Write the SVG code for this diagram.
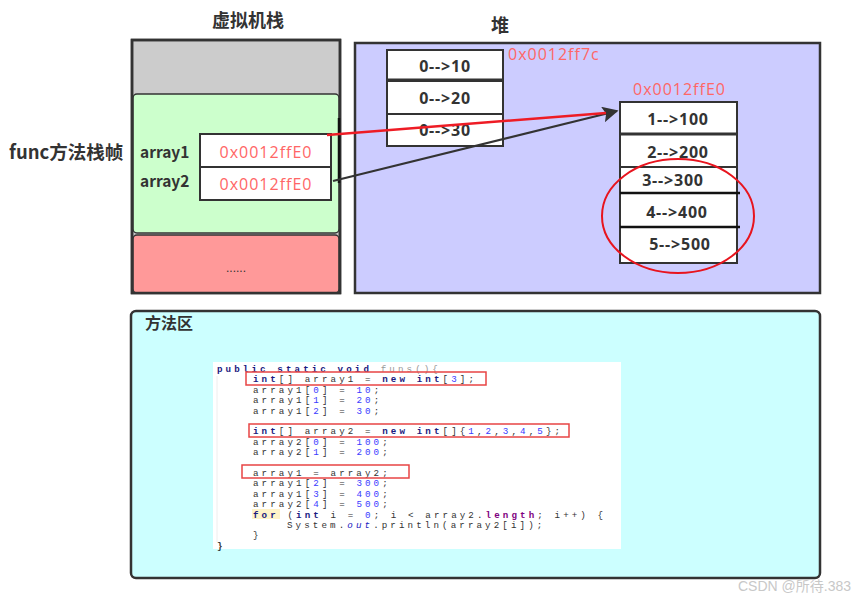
<svg xmlns="http://www.w3.org/2000/svg" width="855" height="602" viewBox="0 0 855 602">
<defs>
<style>
.t{font-family:"Noto Sans CJK SC","Liberation Sans",sans-serif;font-weight:bold;fill:#333;}
.addr{font-family:"Open Sans","Liberation Sans",sans-serif;fill:#ff6666;font-size:16px;letter-spacing:1px;}
.cell{fill:#fff;stroke:#333;stroke-width:2;}
.val{font-family:"Open Sans","Liberation Sans",sans-serif;font-weight:bold;fill:#333;font-size:16px;letter-spacing:0.8px;text-anchor:middle;}
.code{font-family:"Liberation Mono",monospace;font-size:9.2px;letter-spacing:3.1px;fill:#333;}
.kw{fill:#1a1a80;font-weight:bold;}
.num{fill:#3a3aff;}
.rb{fill:none;stroke:#e84444;stroke-width:1.5;}
</style>
<marker id="ah2" viewBox="0 0 10 10" refX="9" refY="5" markerWidth="16" markerHeight="16" markerUnits="userSpaceOnUse" orient="auto">
<path d="M0,0 L10,5 L0,10 L2,5 z" fill="#333"/>
</marker>
</defs>
<rect x="0" y="0" width="855" height="602" fill="#fff"/>

<g id="stack">
<text class="t" x="248" y="27" font-size="18" text-anchor="middle">虚拟机栈</text>
<rect x="132" y="40" width="208" height="253" fill="#cccccc" stroke="#333" stroke-width="2.5"/>
<rect x="133" y="94" width="206" height="139" rx="4" fill="#ccffcc" stroke="#333" stroke-width="1.5"/>
<rect x="133" y="235" width="206" height="58" rx="4" fill="#ff9999" stroke="#333" stroke-width="1.5"/>
<rect x="132" y="40" width="208" height="253" fill="none" stroke="#333" stroke-width="2.5"/>
<text x="236" y="272" font-family="Liberation Sans,sans-serif" font-size="12" fill="#333" text-anchor="middle">......</text>
</g>

<g id="frame-label">
<text class="t" x="9" y="159" font-size="18.5">func方法栈帧</text>
</g>

<g id="locals">
<text class="t" x="140" y="158" font-size="15.5">array1</text>
<text class="t" x="140" y="187" font-size="15.5">array2</text>
<rect class="cell" x="200" y="134" width="131" height="33"/>
<rect class="cell" x="200" y="167" width="131" height="33"/>
<text class="addr" x="266" y="158" text-anchor="middle">0x0012ffE0</text>
<text class="addr" x="266" y="190" text-anchor="middle">0x0012ffE0</text>
<line x1="339" y1="118" x2="339" y2="183" stroke="#111" stroke-width="2.5"/>
</g>

<g id="heap">
<text class="t" x="500" y="32" font-size="18" text-anchor="middle">堆</text>
<rect x="355" y="43" width="465" height="250" fill="#ccccff" stroke="#333" stroke-width="2.5"/>
</g>

<g id="arr1">
<rect class="cell" x="387" y="50" width="116" height="30"/>
<rect class="cell" x="387" y="81" width="116" height="33"/>
<rect class="cell" x="387" y="114" width="116" height="32"/>
<line x1="387" y1="80" x2="503" y2="80" stroke="#333" stroke-width="3"/>
<text class="val" x="445" y="72">0--&gt;10</text>
<text class="val" x="445" y="104">0--&gt;20</text>
<text class="val" x="445" y="136">0--&gt;30</text>
<text class="addr" x="508" y="60">0x0012ff7c</text>
</g>

<g id="arr2">
<text class="addr" x="633" y="95">0x0012ffE0</text>
<rect class="cell" x="620" y="102" width="117" height="32"/>
<rect class="cell" x="620" y="134" width="117" height="33"/>
<rect x="620" y="167" width="117" height="96" fill="#fff" stroke="#333" stroke-width="2"/>
<line x1="620" y1="134" x2="737" y2="134" stroke="#333" stroke-width="3"/>
<line x1="620" y1="193" x2="740" y2="193" stroke="#111" stroke-width="2.5"/>
<line x1="620" y1="227" x2="740" y2="227" stroke="#111" stroke-width="2.5"/>
<text class="val" x="678" y="125">1--&gt;100</text>
<text class="val" x="678" y="158">2--&gt;200</text>
<text class="val" x="673" y="186">3--&gt;300</text>
<text class="val" x="677" y="218">4--&gt;400</text>
<text class="val" x="680" y="250">5--&gt;500</text>
<ellipse cx="678" cy="216" rx="76" ry="57" fill="none" stroke="#e8141e" stroke-width="2"/>
</g>

<g id="connectors">
<line x1="333" y1="181" x2="617" y2="111" stroke="#333" stroke-width="2" marker-end="url(#ah2)"/>
<line x1="327" y1="135" x2="606" y2="113" stroke="#ee1c25" stroke-width="2.5"/>
</g>

<g id="method-area">
<rect x="131" y="311" width="689" height="267" rx="5" fill="#ccffff" stroke="#333" stroke-width="2.5"/>
<text class="t" x="145" y="329" font-size="16">方法区</text>
</g>

<g id="code">
<rect x="213" y="362" width="408" height="187" fill="#fff"/>
<line x1="217" y1="376" x2="217" y2="542" stroke="#eee" stroke-width="1"/>
<text class="code" x="217" y="372"><tspan class="kw">public static void</tspan> <tspan fill="#999">funs(){</tspan></text>
<text class="code" x="253" y="382.4"><tspan class="kw">int</tspan>[] array1 = <tspan class="kw">new int</tspan>[<tspan class="num">3</tspan>];</text>
<text class="code" x="253" y="392.8">array1[<tspan class="num">0</tspan>] = <tspan class="num">10</tspan>;</text>
<text class="code" x="253" y="403.2">array1[<tspan class="num">1</tspan>] = <tspan class="num">20</tspan>;</text>
<text class="code" x="253" y="413.6">array1[<tspan class="num">2</tspan>] = <tspan class="num">30</tspan>;</text>
<text class="code" x="253" y="434.4"><tspan class="kw">int</tspan>[] array2 = <tspan class="kw">new int</tspan>[]{<tspan class="num">1</tspan>,<tspan class="num">2</tspan>,<tspan class="num">3</tspan>,<tspan class="num">4</tspan>,<tspan class="num">5</tspan>};</text>
<text class="code" x="253" y="444.8">array2[<tspan class="num">0</tspan>] = <tspan class="num">100</tspan>;</text>
<text class="code" x="253" y="455.2">array2[<tspan class="num">1</tspan>] = <tspan class="num">200</tspan>;</text>
<text class="code" x="253" y="476">array1 = array2;</text>
<text class="code" x="253" y="486.4">array1[<tspan class="num">2</tspan>] = <tspan class="num">300</tspan>;</text>
<text class="code" x="253" y="496.8">array1[<tspan class="num">3</tspan>] = <tspan class="num">400</tspan>;</text>
<text class="code" x="253" y="507.2">array2[<tspan class="num">4</tspan>] = <tspan class="num">500</tspan>;</text>
<rect x="252" y="509" width="28" height="10" fill="#fff3c8"/>
<text class="code" x="253" y="517.6"><tspan class="kw">for</tspan> (<tspan class="kw">int</tspan> i = <tspan class="num">0</tspan>; i &lt; array2.<tspan fill="#7f0080" font-weight="bold">length</tspan>; i++) {</text>
<text class="code" x="287" y="528">System.<tspan fill="#2020c0" font-style="italic">out</tspan>.println(array2[i]);</text>
<text class="code" x="253" y="538.4">}</text>
<text class="code" x="217" y="548.6" font-weight="bold">}</text>
<rect class="rb" x="246" y="372" width="240" height="13"/>
<rect class="rb" x="249" y="424" width="320" height="13"/>
<rect class="rb" x="242" y="465" width="167" height="13"/>
</g>

<g id="watermark">
<text x="851" y="591" text-anchor="end" font-family="Liberation Sans,Noto Sans CJK SC,sans-serif" font-size="14" fill="#c8c8c8">CSDN @所待.383</text>
</g>
</svg>
